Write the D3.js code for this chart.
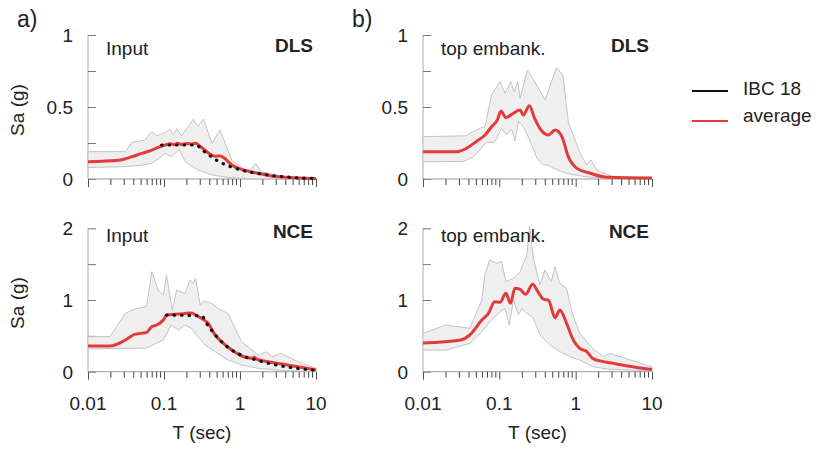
<!DOCTYPE html>
<html>
<head>
<meta charset="utf-8">
<script src="https://cdn.jsdelivr.net/npm/d3@7"></script>
<style>
  body { margin: 0; background: #fff; }
  svg { display: block; font-family: "Liberation Sans", Arial, sans-serif; }
</style>
</head>
<body>
<svg id="chart" width="818" height="451"></svg>
<script>
// Periods (sec) and spectral accelerations (g), [T, Sa]
const periodTicks = [0.01, 0.1, 1, 10];
const periodLabels = ['0.01', '0.1', '1', '10'];
const dlsTicks = [0, 0.25, 0.5, 0.75, 1];
const dlsLabels = ['0', '', '0.5', '', '1'];
const nceTicks = [0, 0.5, 1, 1.5, 2];
const nceLabels = ['0', '', '1', '', '2'];
const legendNames = ['IBC 18', 'average'];

// a) Input, DLS
const inDlsAvg = [[0.01,0.12],[0.025,0.13],[0.038,0.155],[0.051,0.178],[0.069,0.2],[0.084,0.22],[0.103,0.236],[0.12,0.245],[0.135,0.238],[0.15,0.248],[0.17,0.24],[0.2,0.247],[0.23,0.243],[0.26,0.248],[0.31,0.22],[0.38,0.183],[0.47,0.158],[0.55,0.16],[0.62,0.145],[0.78,0.097],[1.05,0.067],[1.74,0.04],[3.2,0.015],[10,0.003]];
const inDlsIbc = [[0.093,0.236],[0.27,0.236],[0.3,0.215],[0.35,0.185],[0.44,0.148],[0.5,0.128],[0.64,0.1],[0.8,0.08],[1.05,0.062],[1.3,0.05],[1.74,0.038],[2.5,0.025],[3.9,0.015],[5,0.01],[10,0.004]];
const inDlsUp = [[0.01,0.19],[0.031,0.19],[0.038,0.255],[0.056,0.27],[0.069,0.33],[0.08,0.3],[0.103,0.32],[0.12,0.345],[0.133,0.31],[0.147,0.35],[0.17,0.3],[0.2,0.35],[0.243,0.415],[0.28,0.365],[0.33,0.415],[0.43,0.248],[0.545,0.34],[0.64,0.248],[0.78,0.13],[1.16,0.062],[1.42,0.07],[1.6,0.109],[1.9,0.05],[3.9,0.015],[10,0.005]];
const inDlsLo = [[0.01,0.08],[0.027,0.085],[0.05,0.095],[0.069,0.109],[0.085,0.14],[0.103,0.178],[0.125,0.155],[0.16,0.205],[0.19,0.12],[0.28,0.062],[0.43,0.028],[0.7,0.01],[1.4,0.002],[10,0]];

// a) Input, NCE
const inNceAvg = [[0.01,0.358],[0.0195,0.358],[0.031,0.442],[0.041,0.52],[0.059,0.549],[0.069,0.628],[0.08,0.651],[0.098,0.721],[0.108,0.79],[0.14,0.8],[0.18,0.81],[0.23,0.82],[0.27,0.78],[0.31,0.745],[0.38,0.676],[0.47,0.512],[0.57,0.419],[0.78,0.303],[1.05,0.219],[1.42,0.186],[1.55,0.2],[1.7,0.17],[2.36,0.14],[3.9,0.1],[5.8,0.07],[10,0.023]];
const inNceIbc = [[0.108,0.79],[0.31,0.78],[0.38,0.64],[0.52,0.465],[0.7,0.335],[1.05,0.23],[1.74,0.155],[3.2,0.088],[5.8,0.045],[10,0.02]];
const inNceUp = [[0.01,0.488],[0.0195,0.49],[0.031,0.814],[0.041,0.874],[0.059,0.91],[0.069,1.395],[0.084,1.139],[0.098,1.07],[0.108,1.35],[0.128,0.86],[0.147,1.139],[0.188,1.09],[0.22,1.279],[0.243,1.23],[0.26,1.3],[0.3,0.93],[0.33,0.986],[0.43,0.95],[0.52,0.88],[0.7,0.81],[0.86,0.605],[1.05,0.419],[1.74,0.233],[2.24,0.279],[2.63,0.21],[3.5,0.256],[5.8,0.14],[10,0.047]];
const inNceLo = [[0.01,0.317],[0.059,0.33],[0.098,0.442],[0.125,0.651],[0.155,0.58],[0.188,0.651],[0.23,0.605],[0.28,0.488],[0.35,0.372],[0.47,0.279],[0.7,0.163],[1.05,0.093],[1.74,0.047],[3.9,0.014],[10,0.005]];

// b) top embankment, DLS
const embDlsAvg = [[0.01,0.19],[0.028,0.19],[0.037,0.213],[0.051,0.264],[0.065,0.305],[0.079,0.363],[0.094,0.409],[0.105,0.472],[0.122,0.426],[0.145,0.449],[0.187,0.479],[0.206,0.444],[0.247,0.509],[0.29,0.421],[0.36,0.333],[0.44,0.306],[0.537,0.34],[0.66,0.294],[0.8,0.155],[1.04,0.074],[1.55,0.04],[2.6,0.012],[10,0.007]];
const embDlsUp = [[0.01,0.294],[0.037,0.3],[0.041,0.317],[0.059,0.358],[0.065,0.363],[0.079,0.583],[0.102,0.676],[0.119,0.594],[0.141,0.676],[0.157,0.607],[0.174,0.676],[0.187,0.56],[0.233,0.757],[0.29,0.676],[0.397,0.549],[0.56,0.773],[0.68,0.722],[0.8,0.398],[1.12,0.19],[1.4,0.097],[1.59,0.132],[1.9,0.062],[3.1,0.016],[10,0.007]];
const embDlsLo = [[0.01,0.12],[0.034,0.122],[0.046,0.155],[0.068,0.255],[0.087,0.255],[0.107,0.352],[0.124,0.306],[0.145,0.347],[0.16,0.264],[0.178,0.4],[0.206,0.363],[0.25,0.271],[0.31,0.144],[0.378,0.097],[0.44,0.097],[0.51,0.074],[0.76,0.039],[1.4,0.014],[2.6,0.007],[10,0.005]];

// b) top embankment, NCE
const embNceAvg = [[0.01,0.4],[0.031,0.442],[0.041,0.512],[0.059,0.721],[0.072,0.814],[0.087,0.977],[0.102,0.968],[0.122,1.093],[0.14,0.954],[0.16,1.163],[0.187,1.149],[0.22,1.079],[0.274,1.219],[0.32,1.116],[0.378,1.012],[0.44,0.998],[0.537,0.752],[0.62,0.86],[0.76,0.674],[0.93,0.442],[1.13,0.326],[1.4,0.28],[1.67,0.186],[2.3,0.14],[3.1,0.116],[4.6,0.084],[10,0.03]];
const embNceUp = [[0.01,0.535],[0.02,0.651],[0.041,0.605],[0.059,0.998],[0.065,1.372],[0.075,1.558],[0.092,1.51],[0.107,1.535],[0.122,1.256],[0.153,1.302],[0.187,1.395],[0.229,1.628],[0.25,2.02],[0.28,1.581],[0.34,1.209],[0.397,1.419],[0.48,1.256],[0.537,1.465],[0.62,1.233],[0.76,1.163],[0.89,0.837],[1.13,0.535],[1.67,0.326],[2.3,0.21],[2.8,0.256],[3.8,0.21],[10,0.07]];
const embNceLo = [[0.01,0.302],[0.02,0.302],[0.041,0.395],[0.059,0.558],[0.075,0.698],[0.102,0.837],[0.119,0.884],[0.135,0.651],[0.153,0.998],[0.178,0.791],[0.197,0.884],[0.229,0.814],[0.28,0.744],[0.34,0.512],[0.46,0.372],[0.62,0.28],[0.84,0.21],[1.13,0.163],[1.67,0.07],[2.6,0.037],[10,0.01]];

const red = '#e53a3a';
const svg = d3.select('#chart');

// Panel frames (pixel positions of the plot areas)
const cols = [{ x0: 88, x1: 316, tag: 'a)', tagX: 17, site: 'Input' },
              { x0: 423, x1: 652, tag: 'b)', tagX: 352, site: 'top embank.' }];
const rows = [{ y0: 179, y1: 35, ymax: 1, ticks: dlsTicks, labels: dlsLabels, level: 'DLS', siteDy: 20, levelDy: 17 },
              { y0: 371.7, y1: 228.3, ymax: 2, ticks: nceTicks, labels: nceLabels, level: 'NCE', siteDy: 14, levelDy: 10 }];

const panels = [
  { c: 0, r: 0, avg: inDlsAvg, up: inDlsUp, lo: inDlsLo, ibc: inDlsIbc },
  { c: 0, r: 1, avg: inNceAvg, up: inNceUp, lo: inNceLo, ibc: inNceIbc },
  { c: 1, r: 0, avg: embDlsAvg, up: embDlsUp, lo: embDlsLo, ibc: null },
  { c: 1, r: 1, avg: embNceAvg, up: embNceUp, lo: embNceLo, ibc: null }
];

// minor tick positions 2..9 x 10^k
const minorTicks = [];
[0.01, 0.1, 1].forEach(base => {
  for (let k = 2; k <= 9; k++) minorTicks.push(base * k);
});

panels.forEach(p => {
  const col = cols[p.c];
  const row = rows[p.r];
  const x = d3.scaleLog().domain([0.01, 10]).range([col.x0, col.x1]);
  const y = d3.scaleLinear().domain([0, row.ymax]).range([row.y0, row.y1]);
  const g = svg.append('g');

  // y axis: gray line with inward ticks
  const yAxis = g.append('g')
    .attr('transform', `translate(${col.x0},0)`)
    .call(d3.axisRight(y).tickValues(row.ticks).tickSize(8).tickFormat(''));
  yAxis.select('.domain').attr('stroke', '#aaa').attr('d', `M0,${row.y0}V${row.y1}`);
  yAxis.selectAll('.tick line').attr('stroke', '#777');

  // y tick labels
  g.selectAll('.ylab')
    .data(row.ticks)
    .enter()
    .append('text')
    .attr('x', col.x0 - 15)
    .attr('y', d => y(d))
    .attr('dy', '0.36em')
    .attr('text-anchor', 'end')
    .style('font-size', '19px')
    .style('fill', '#222')
    .text((d, i) => row.labels[i]);

  // x axis: baseline with major and minor ticks pointing down
  const xAxis = g.append('g')
    .attr('transform', `translate(0,${row.y0})`)
    .call(d3.axisBottom(x).tickValues(periodTicks).tickSize(8).tickFormat(''));
  xAxis.select('.domain').attr('stroke', '#999').attr('d', `M${col.x0},0H${col.x1}`);
  xAxis.selectAll('.tick line').attr('stroke', '#555');
  g.selectAll('.minor')
    .data(minorTicks)
    .enter()
    .append('line')
    .attr('x1', d => x(d))
    .attr('x2', d => x(d))
    .attr('y1', row.y0)
    .attr('y2', row.y0 + 6)
    .attr('stroke', '#444')
    .attr('stroke-width', 1);

  const line = d3.line().x(d => x(d[0])).y(d => y(d[1]));
  const smooth = d3.line().x(d => x(d[0])).y(d => y(d[1])).curve(d3.curveMonotoneX);

  // scatter band of the records
  g.append('path')
    .attr('d', line(p.up.concat(p.lo.slice().reverse())) + 'Z')
    .attr('fill', '#efefef')
    .attr('stroke', '#c4c4c4')
    .attr('stroke-width', 1);

  // average spectrum
  g.append('path')
    .attr('d', smooth(p.avg))
    .attr('fill', 'none')
    .attr('stroke', red)
    .attr('stroke-width', 3)
    .attr('stroke-linejoin', 'round');

  // IBC 18 design spectrum (dotted)
  if (p.ibc) {
    g.append('path')
      .attr('d', smooth(p.ibc))
      .attr('fill', 'none')
      .attr('stroke', '#111')
      .attr('stroke-width', 3.2)
      .attr('stroke-linecap', 'round')
      .attr('stroke-dasharray', '0.5 7');
  }

  // panel texts
  g.append('text')
    .attr('x', col.x0 + 18)
    .attr('y', row.y1 + row.siteDy)
    .style('font-size', '19px')
    .style('fill', '#222')
    .text(col.site);
  g.append('text')
    .attr('x', col.x1 - 3)
    .attr('y', row.y1 + row.levelDy)
    .attr('text-anchor', 'end')
    .style('font-size', '19px')
    .style('font-weight', 'bold')
    .style('fill', '#222')
    .text(row.level);

  // x tick labels and title on the bottom row
  if (p.r === 1) {
    g.selectAll('.xlab')
      .data(periodTicks)
      .enter()
      .append('text')
      .attr('x', d => x(d))
      .attr('y', 410)
      .attr('text-anchor', 'middle')
      .style('font-size', '19px')
      .style('fill', '#222')
      .text((d, i) => periodLabels[i]);
    g.append('text')
      .attr('x', (col.x0 + col.x1) / 2)
      .attr('y', 439)
      .attr('text-anchor', 'middle')
      .style('font-size', '19px')
      .style('fill', '#222')
      .text('T (sec)');
  }

  // y title on the left column
  if (p.c === 0) {
    g.append('text')
      .attr('transform', `translate(24,${(row.y0 + row.y1) / 2 + 3}) rotate(-90)`)
      .attr('text-anchor', 'middle')
      .style('font-size', '19px')
      .style('fill', '#222')
      .text('Sa (g)');
  }
});

// panel tags
cols.forEach(col => {
  svg.append('text')
    .attr('x', col.tagX)
    .attr('y', 27)
    .style('font-size', '23px')
    .style('fill', '#222')
    .text(col.tag);
});

// Legend
const legend = svg.append('g');
const legendY = [91, 121];
const legendColor = ['#111', red];
legendNames.forEach((name, i) => {
  legend.append('line')
    .attr('x1', 692).attr('x2', 728)
    .attr('y1', legendY[i]).attr('y2', legendY[i])
    .attr('stroke', legendColor[i])
    .attr('stroke-width', 2.2);
  legend.append('text')
    .attr('x', 743)
    .attr('y', legendY[i] + (i === 0 ? 4 : 1))
    .style('font-size', '19px')
    .style('fill', '#222')
    .text(name);
});
</script>
</body>
</html>
